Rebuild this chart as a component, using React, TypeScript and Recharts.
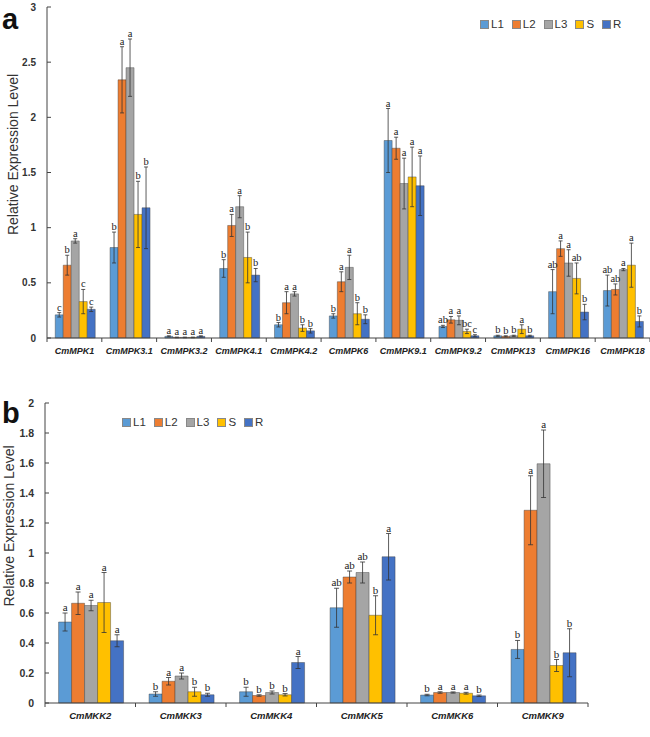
import React from "react";
import { BarChart, Bar, XAxis, YAxis, ErrorBar, LabelList, Legend, Label } from "recharts";

const seriesKeys = ["L1", "L2", "L3", "S", "R"];
const seriesColors = ["#5B9BD5", "#ED7D31", "#A5A5A5", "#FFC000", "#4472C4"];

// panel a — MAPKs
const mpkGenes = ["CmMPK1", "CmMPK3.1", "CmMPK3.2", "CmMPK4.1", "CmMPK4.2", "CmMPK6", "CmMPK9.1", "CmMPK9.2", "CmMPK13", "CmMPK16", "CmMPK18"];
const mpkL1 = [0.21, 0.82, 0.015, 0.63, 0.12, 0.2, 1.79, 0.105, 0.02, 0.42, 0.43];
const mpkL2 = [0.66, 2.34, 0.005, 1.02, 0.32, 0.51, 1.72, 0.165, 0.015, 0.81, 0.44];
const mpkL3 = [0.88, 2.45, 0.005, 1.19, 0.4, 0.64, 1.4, 0.16, 0.02, 0.68, 0.62];
const mpkS = [0.33, 1.12, 0.005, 0.73, 0.09, 0.22, 1.46, 0.06, 0.08, 0.54, 0.66];
const mpkR = [0.26, 1.18, 0.015, 0.57, 0.065, 0.17, 1.38, 0.02, 0.02, 0.235, 0.15];
const mpkL1Err = [0.02, 0.14, 0.005, 0.08, 0.02, 0.02, 0.29, 0.01, 0.005, 0.2, 0.14];
const mpkL2Err = [0.09, 0.3, 0.003, 0.1, 0.1, 0.09, 0.1, 0.03, 0.005, 0.07, 0.05];
const mpkL3Err = [0.02, 0.26, 0.003, 0.1, 0.02, 0.11, 0.23, 0.04, 0.005, 0.12, 0.01];
const mpkSErr = [0.11, 0.3, 0.003, 0.23, 0.03, 0.1, 0.27, 0.02, 0.04, 0.14, 0.2];
const mpkRErr = [0.02, 0.37, 0.005, 0.06, 0.02, 0.04, 0.27, 0.01, 0.005, 0.07, 0.05];
const mpkL1Sig = ["c", "b", "a", "b", "b", "b", "a", "ab", "b", "ab", "ab"];
const mpkL2Sig = ["b", "a", "a", "a", "a", "a", "a", "a", "b", "a", "ab"];
const mpkL3Sig = ["a", "a", "a", "a", "a", "a", "a", "a", "b", "a", "a"];
const mpkSSig = ["c", "b", "a", "b", "b", "b", "a", "bc", "a", "ab", "a"];
const mpkRSig = ["c", "b", "a", "b", "b", "b", "a", "c", "b", "b", "b"];
const mpkTicks = [0, 0.5, 1, 1.5, 2, 2.5, 3];

// panel b — MAPKKs
const mkkGenes = ["CmMKK2", "CmMKK3", "CmMKK4", "CmMKK5", "CmMKK6", "CmMKK9"];
const mkkL1 = [0.54, 0.06, 0.075, 0.635, 0.053, 0.357];
const mkkL2 = [0.665, 0.145, 0.05, 0.84, 0.07, 1.285];
const mkkL3 = [0.65, 0.18, 0.07, 0.87, 0.07, 1.595];
const mkkS = [0.67, 0.075, 0.055, 0.585, 0.065, 0.25];
const mkkR = [0.415, 0.055, 0.27, 0.975, 0.048, 0.335];
const mkkL1Err = [0.06, 0.015, 0.03, 0.13, 0.005, 0.06];
const mkkL2Err = [0.075, 0.025, 0.005, 0.04, 0.005, 0.23];
const mkkL3Err = [0.035, 0.02, 0.01, 0.07, 0.004, 0.225];
const mkkSErr = [0.2, 0.03, 0.008, 0.13, 0.006, 0.04];
const mkkRErr = [0.04, 0.01, 0.04, 0.155, 0.005, 0.16];
const mkkL1Sig = ["a", "b", "b", "ab", "b", "b"];
const mkkL2Sig = ["a", "a", "b", "ab", "a", "a"];
const mkkL3Sig = ["a", "a", "b", "ab", "a", "a"];
const mkkSSig = ["a", "b", "b", "b", "a", "b"];
const mkkRSig = ["a", "b", "a", "a", "b", "b"];
const mkkTicks = [0, 0.2, 0.4, 0.6, 0.8, 1, 1.2, 1.4, 1.6, 1.8, 2];

const sans = "Liberation Sans, Arial, sans-serif";
const serif = "Liberation Serif, Times New Roman, serif";

interface Panel {
  genes: string[];
  values: number[][];
  errors: number[][];
  sigs: string[][];
}

const mpk: Panel = {
  genes: mpkGenes,
  values: [mpkL1, mpkL2, mpkL3, mpkS, mpkR],
  errors: [mpkL1Err, mpkL2Err, mpkL3Err, mpkSErr, mpkRErr],
  sigs: [mpkL1Sig, mpkL2Sig, mpkL3Sig, mpkSSig, mpkRSig],
};
const mkk: Panel = {
  genes: mkkGenes,
  values: [mkkL1, mkkL2, mkkL3, mkkS, mkkR],
  errors: [mkkL1Err, mkkL2Err, mkkL3Err, mkkSErr, mkkRErr],
  sigs: [mkkL1Sig, mkkL2Sig, mkkL3Sig, mkkSSig, mkkRSig],
};

function buildRows(p: Panel) {
  return p.genes.map((gene, i) => {
    const row: Record<string, number | string> = { gene };
    seriesKeys.forEach((k, s) => {
      row[k] = p.values[s][i];
      row[`${k}_err`] = p.errors[s][i];
      row[`${k}_sig`] = p.sigs[s][i];
    });
    return row;
  });
}

// letter sits just above the error-bar cap; px/unit taken from the bar itself
const sigLabel = (vals: number[], errs: number[], sigs: string[], fontSize: number) => (props: any) => {
  const vb = props.viewBox ?? props;
  const x = Number(props.x ?? vb.x);
  const y = Number(props.y ?? vb.y);
  const width = Number(props.width ?? vb.width);
  const height = Number(props.height ?? vb.height);
  const i = props.index;
  const v = vals[i];
  if (!v || !height) return null;
  const top = y - errs[i] * (height / v);
  return (
    <text
      x={x + width / 2}
      y={top - 2}
      textAnchor="middle"
      fontFamily={serif}
      fontSize={fontSize}
      fill="#222"
      style={{ fill: "#222" }}
    >
      {sigs[i]}
    </text>
  );
};

const GeneTick = (props: any) => {
  const { x, y, payload, index, count, fontSize } = props;
  const half = payload?.offset ?? 0;
  return (
    <g>
      <line x1={x - half} x2={x - half} y1={y} y2={y + 4} stroke="#444" strokeWidth={1} />
      {index === count - 1 && <line x1={x + half} x2={x + half} y1={y} y2={y + 4} stroke="#444" strokeWidth={1} />}
      <text x={x} y={y + 16} textAnchor="middle" fontFamily={sans} fontStyle="italic" fontWeight="bold" fontSize={fontSize} fill="#222">
        {payload.value}
      </text>
    </g>
  );
};

const ValueTick = (props: any) => {
  const { x, y, payload, fontSize } = props;
  return (
    <g>
      <line x1={x} x2={x + 4} y1={y} y2={y} stroke="#444" strokeWidth={1} />
      <text x={x - 11} y={y} dy="0.35em" textAnchor="end" fontFamily={sans} fontWeight="bold" fontSize={fontSize} fill="#333">
        {String(payload.value)}
      </text>
    </g>
  );
};

const LegendRow = (props: any) => {
  const items = [...(props.payload ?? [])].sort(
    (a: any, b: any) => seriesKeys.indexOf(a.value) - seriesKeys.indexOf(b.value)
  );
  return (
    <div style={{ display: "flex", fontFamily: sans, fontSize: 11.5, color: "#333", lineHeight: "14px" }}>
      {items.map((it: any) => (
        <span key={it.value} style={{ display: "flex", alignItems: "center", marginRight: 8 }}>
          <span style={{ width: 7, height: 7, background: it.color, border: "1px solid #888", marginRight: 2 }} />
          {it.value}
        </span>
      ))}
    </div>
  );
};

const yLabel = (cx: number, dyUp: number) => (props: any) => {
  const vb = props.viewBox;
  const cy = vb.y + vb.height / 2 - dyUp;
  return (
    <text x={cx} y={cy} transform={`rotate(-90, ${cx}, ${cy})`} textAnchor="middle" dominantBaseline="central" fontFamily={sans} fontSize={14} fill="#333">
      Relative Expression Level
    </text>
  );
};

interface ChartProps {
  panel: Panel;
  width: number;
  height: number;
  margin: { top: number; right: number; left: number; bottom: number };
  yWidth: number;
  domain: [number, number];
  ticks: number[];
  legendPos: { top: number; left: number };
  capWidth: number;
  sigSize: number;
  xFont: number;
  yFont: number;
  labelX: number;
  labelUp: number;
}

function ExpressionChart(c: ChartProps) {
  const rows = buildRows(c.panel);
  const n = c.panel.genes.length;
  return (
    <BarChart width={c.width} height={c.height} data={rows} margin={c.margin} barCategoryGap="15%" barGap={0}>
      <XAxis
        dataKey="gene"
        interval={0}
        tickSize={0}
        tickMargin={0}
        height={20}
        axisLine={{ stroke: "#444" }}
        tick={(p: any) => <GeneTick {...p} count={n} fontSize={c.xFont} />}
      />
      <YAxis
        width={c.yWidth}
        domain={c.domain}
        ticks={c.ticks}
        interval={0}
        tickSize={0}
        tickMargin={0}
        axisLine={{ stroke: "#444" }}
        tick={(p: any) => <ValueTick {...p} fontSize={c.yFont} />}
      >
        <Label content={yLabel(c.labelX, c.labelUp)} />
      </YAxis>
      <Legend
        content={<LegendRow />}
        wrapperStyle={{ position: "absolute", top: c.legendPos.top, left: c.legendPos.left, width: "auto", bottom: "auto" }}
      />
      {seriesKeys.map((k, s) => (
        <Bar key={k} dataKey={k} name={k} fill={seriesColors[s]} stroke="#3c3c3c" strokeWidth={0.6} strokeOpacity={0.7} isAnimationActive={false}>
          <ErrorBar dataKey={`${k}_err`} direction="y" width={c.capWidth} stroke="#333" strokeWidth={0.8} isAnimationActive={false} />
          <LabelList dataKey={`${k}_sig`} content={sigLabel(c.panel.values[s], c.panel.errors[s], c.panel.sigs[s], c.sigSize)} />
        </Bar>
      ))}
    </BarChart>
  );
}

export default function App() {
  return (
    <div style={{ position: "absolute", left: 0, top: 0, width: 650, height: 737, background: "#fff" }}>
      <div style={{ position: "absolute", left: 0, top: 0 }}>
        <ExpressionChart
          panel={mpk}
          width={650}
          height={375}
          margin={{ top: 7, right: 0, left: 0, bottom: 3 }}
          yWidth={47}
          domain={[0, 3]}
          ticks={mpkTicks}
          legendPos={{ top: 17, left: 480 }}
          capWidth={2}
          sigSize={10.5}
          xFont={9}
          yFont={10}
          labelX={13}
          labelUp={18}
        />
      </div>
      <div style={{ position: "absolute", left: 0, top: 375 }}>
        <ExpressionChart
          panel={mkk}
          width={650}
          height={362}
          margin={{ top: 28, right: 62, left: 0, bottom: 0 }}
          yWidth={45}
          domain={[0, 2]}
          ticks={mkkTicks}
          legendPos={{ top: 40, left: 122 }}
          capWidth={2.5}
          sigSize={11}
          xFont={9.5}
          yFont={10.5}
          labelX={9}
          labelUp={27}
        />
      </div>
      <svg width={650} height={737} style={{ position: "absolute", left: 0, top: 0, pointerEvents: "none" }}>
        <text x={2} y={29} fontFamily={sans} fontWeight="bold" fontSize={29} fill="#111">a</text>
        <text x={2} y={423} fontFamily={sans} fontWeight="bold" fontSize={29} fill="#111">b</text>
      </svg>
    </div>
  );
}
